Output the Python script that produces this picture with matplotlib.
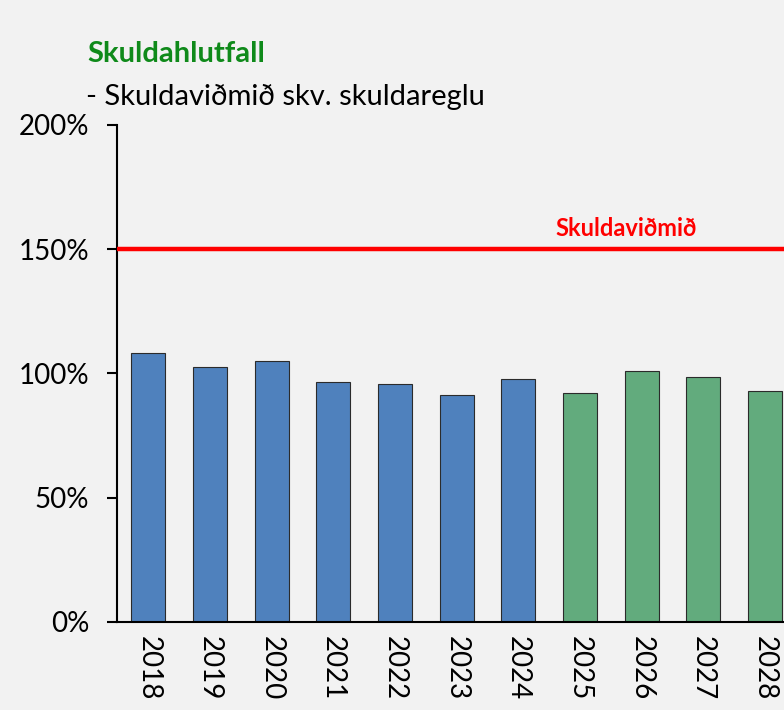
import matplotlib.pyplot as plt
import numpy as np

# Gögn lesin af myndinni
ar = ['2018', '2019', '2020', '2021', '2022', '2023', '2024', '2025', '2026', '2027', '2028']
skuldahlutfall = [1.082, 1.027, 1.052, 0.965, 0.957, 0.913, 0.979, 0.923, 1.011, 0.987, 0.931]
spa_fra = 7  # frá 2025 er spá (grænar súlur)
skuldavidmid = 1.50

blar = '#4f81bd'
graenn = '#62ab7d'
bakgrunnur = '#f2f2f2'

plt.rcParams['font.family'] = ['Lato', 'DejaVu Sans']

fig = plt.figure(figsize=(7.84, 7.10), dpi=100, facecolor=bakgrunnur)
ax = fig.add_axes([0.149, 0.124, 0.851, 0.700])
ax.set_facecolor(bakgrunnur)

x = np.arange(len(ar))
litir = [blar if i < spa_fra else graenn for i in range(len(ar))]
ax.bar(x, skuldahlutfall, width=0.55, color=litir, edgecolor='#2b2b2b', linewidth=0.8, zorder=2)

# Skuldaviðmið
ax.axhline(skuldavidmid, color='#ff0000', linewidth=3.2, zorder=3)
ax.text(7.75, 1.585, 'Skuldaviðmið', color='#ff0000', fontsize=17, fontweight='bold',
        ha='center', va='center')

ax.set_xlim(-0.51, 10.31)
ax.set_ylim(0, 2.0)
ax.set_yticks([0, 0.5, 1.0, 1.5, 2.0])
ax.set_yticklabels(['0%', '50%', '100%', '150%', '200%'], fontsize=20)
ax.set_xticks(x)
ax.set_xticklabels(ar, rotation=270, fontsize=20)
ax.tick_params(axis='x', length=0, pad=10)
ax.tick_params(axis='y', length=7, width=1.5, direction='out', pad=13)

for s in ['top', 'right']:
    ax.spines[s].set_visible(False)
ax.spines['left'].set_linewidth(1.5)
ax.spines['bottom'].set_linewidth(1.5)

fig.text(0.112, 0.924, 'Skuldahlutfall', color='#0f8a1a', fontsize=21, fontweight='bold',
         ha='left', va='center')
fig.text(0.110, 0.863, '- Skuldaviðmið skv. skuldareglu', color='black', fontsize=21,
         ha='left', va='center')

fig.savefig('out.png', dpi=100, facecolor=bakgrunnur)
